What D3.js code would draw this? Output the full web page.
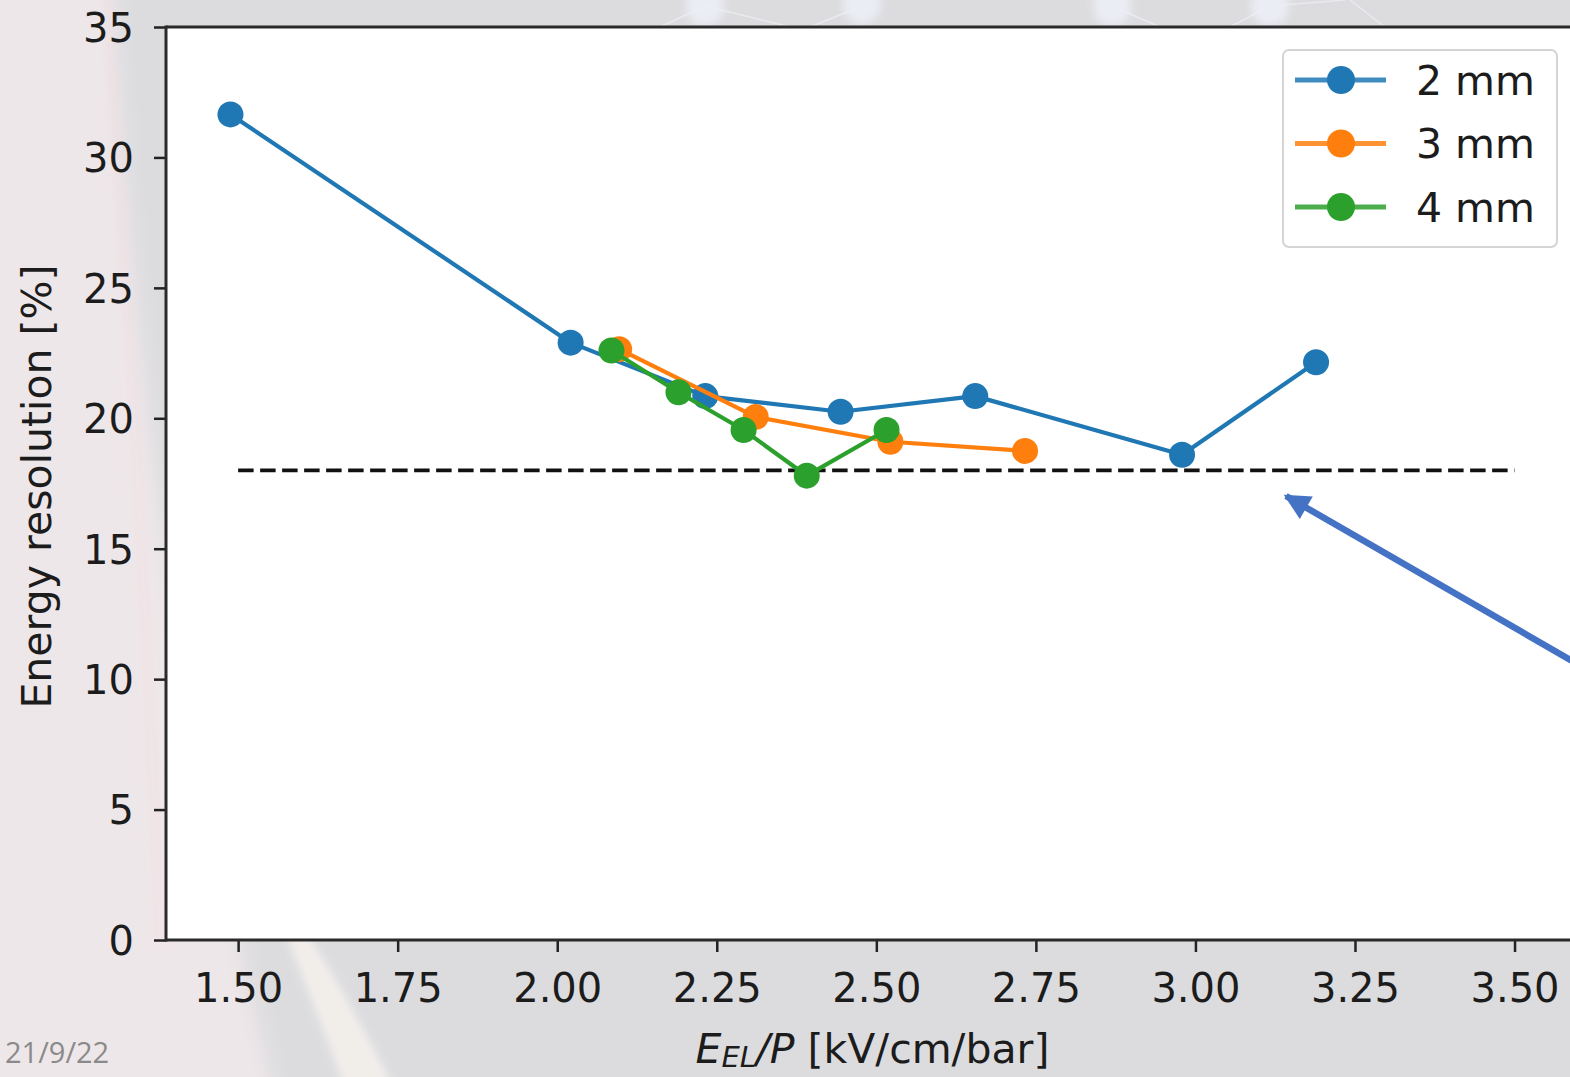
<!DOCTYPE html>
<html>
<head>
<meta charset="utf-8">
<script src="https://cdn.jsdelivr.net/npm/d3@7"></script>
<style>
  html, body { margin: 0; padding: 0; background: #dedde0; }
  svg { display: block; }
</style>
</head>
<body>
<svg id="chart" width="1570" height="1077"></svg>
<script>
// Energy resolution versus reduced EL field, one series per EL gap
const seriesNames = ["2 mm", "3 mm", "4 mm"];
const seriesColors = ["#1f77b4", "#ff7f0e", "#2ca02c"];

const field2mm = [1.488, 2.021, 2.232, 2.444, 2.655, 2.979, 3.189];
const res2mm   = [31.65, 22.9, 20.85, 20.25, 20.85, 18.6, 22.15];

const field3mm = [2.097, 2.311, 2.522, 2.733];
const res3mm   = [22.65, 20.05, 19.1, 18.75];

const field4mm = [2.085, 2.19, 2.292, 2.391, 2.516];
const res4mm   = [22.6, 21.0, 19.55, 17.8, 19.55];

// Reference level drawn as a dashed line
const refLevel = 18;
const refRange = [1.5, 3.5];

const xTicks = [1.50, 1.75, 2.00, 2.25, 2.50, 2.75, 3.00, 3.25, 3.50];
const yTicks = [0, 5, 10, 15, 20, 25, 30, 35];
const xDomain = [1.387, 3.601];
const yDomain = [0, 35];

const footerDate = "21/9/22";

const W = 1570, H = 1077;
const plot = { left: 166, right: 1579, top: 27, bottom: 940 };

const svg = d3.select("#chart");
const defs = svg.append("defs");

// ---- slide background ----
svg.append("rect").attr("width", W).attr("height", H).attr("fill", "#dcdcdf");

const soft = defs.append("filter").attr("id", "soft")
  .attr("x", "-20%").attr("y", "-20%").attr("width", "140%").attr("height", "140%");
soft.append("feGaussianBlur").attr("stdDeviation", 10);
const softer = defs.append("filter").attr("id", "softer")
  .attr("x", "-20%").attr("y", "-20%").attr("width", "140%").attr("height", "140%");
softer.append("feGaussianBlur").attr("stdDeviation", 4);

// pale rose panel on the left of the slide template
svg.append("path")
  .attr("d", "M-40,-40 L112,-40 C122,250 170,700 282,1120 L-40,1120 Z")
  .attr("fill", "#eee7e9").attr("filter", "url(#soft)");
// light swoosh along its edge
svg.append("path")
  .attr("d", "M285,930 C300,975 325,1030 345,1090 L395,1090 C370,1040 335,975 305,930 Z")
  .attr("fill", "#f4f0ec").attr("opacity", 0.9).attr("filter", "url(#softer)");
svg.append("path")
  .attr("d", "M108,0 C120,200 138,420 160,940")
  .attr("fill", "none").attr("stroke", "#f3dde0").attr("stroke-width", 5)
  .attr("opacity", 0.7).attr("filter", "url(#softer)");

// faint molecule motif near the top edge
const blobs = [[705, 6], [862, 4], [1112, 6], [1270, 6]];
const links = [[705, 6, 660, 27], [705, 6, 790, 27], [862, 6, 810, 27], [1112, 6, 1160, 27], [1270, 6, 1230, 27], [1270, 6, 1345, 0], [1350, 0, 1385, 27]];
svg.append("g").selectAll("line").data(links).join("line")
  .attr("x1", d => d[0]).attr("y1", d => d[1]).attr("x2", d => d[2]).attr("y2", d => d[3])
  .attr("stroke", "#eceef4").attr("stroke-width", 1.5).attr("opacity", 0.8);
svg.append("g").selectAll("ellipse").data(blobs).join("ellipse")
  .attr("cx", d => d[0]).attr("cy", d => d[1]).attr("rx", 19).attr("ry", 20)
  .attr("fill", "#eef0f8").attr("opacity", 0.85).attr("filter", "url(#softer)");

// ---- scales ----
const x = d3.scaleLinear().domain(xDomain).range([plot.left, plot.right]);
const y = d3.scaleLinear().domain(yDomain).range([plot.bottom, plot.top]);

// plot area
svg.append("rect")
  .attr("x", plot.left).attr("y", plot.top)
  .attr("width", plot.right - plot.left).attr("height", plot.bottom - plot.top)
  .attr("fill", "#ffffff");

defs.append("clipPath").attr("id", "plotClip").append("rect")
  .attr("x", plot.left).attr("y", plot.top)
  .attr("width", plot.right - plot.left).attr("height", plot.bottom - plot.top);

const font = "'DejaVu Sans', sans-serif";
const tickSize = 40;

// ---- axes ----
const xAxis = d3.axisBottom(x).tickValues(xTicks).tickFormat(d3.format(".2f"))
  .tickSizeInner(12).tickSizeOuter(0).tickPadding(20);
const gx = svg.append("g").attr("transform", `translate(0,${plot.bottom})`).call(xAxis);
gx.select(".domain").remove();
gx.selectAll(".tick line").attr("stroke", "#222").attr("stroke-width", 2.5);
gx.selectAll(".tick text").attr("font-family", font).attr("font-size", tickSize)
  .attr("fill", "#1c1c1c").attr("dy", "0.74em");

const yAxis = d3.axisLeft(y).tickValues(yTicks).tickFormat(d3.format("d"))
  .tickSizeInner(12).tickSizeOuter(0).tickPadding(20);
const gy = svg.append("g").attr("transform", `translate(${plot.left},0)`).call(yAxis);
gy.select(".domain").remove();
gy.selectAll(".tick line").attr("stroke", "#222").attr("stroke-width", 2.5);
gy.selectAll(".tick text").attr("font-family", font).attr("font-size", tickSize)
  .attr("fill", "#1c1c1c").attr("dy", "0.36em");

// spines
const spine = svg.append("g").attr("stroke", "#2a2a2a").attr("stroke-width", 3).attr("fill", "none");
spine.append("line").attr("x1", plot.left).attr("x2", plot.left).attr("y1", plot.top - 1.5).attr("y2", plot.bottom + 1.5);
spine.append("line").attr("x1", plot.left).attr("x2", plot.right).attr("y1", plot.top).attr("y2", plot.top);
spine.append("line").attr("x1", plot.left).attr("x2", plot.right).attr("y1", plot.bottom).attr("y2", plot.bottom);
spine.append("line").attr("x1", plot.right).attr("x2", plot.right).attr("y1", plot.top).attr("y2", plot.bottom);

// axis titles
svg.append("text")
  .attr("transform", `translate(51,${(plot.top + plot.bottom) / 2 + 3}) rotate(-90)`)
  .attr("text-anchor", "middle")
  .attr("font-family", font).attr("font-size", 41).attr("fill", "#1c1c1c")
  .text("Energy resolution [%]");

const xl = svg.append("text")
  .attr("x", (plot.left + plot.right) / 2).attr("y", 1063)
  .attr("text-anchor", "middle")
  .attr("font-family", font).attr("font-size", 41).attr("fill", "#1c1c1c");
xl.append("tspan").attr("font-style", "italic").text("E");
xl.append("tspan").attr("font-style", "italic").attr("font-size", 29).attr("dy", 4).text("EL");
xl.append("tspan").attr("font-style", "italic").attr("dy", -4).text("/P");
xl.append("tspan").text(" [kV/cm/bar]");

// ---- data ----
const plotG = svg.append("g").attr("clip-path", "url(#plotClip)");

// dashed reference line
plotG.append("line")
  .attr("x1", x(refRange[0])).attr("x2", x(refRange[1]))
  .attr("y1", y(refLevel)).attr("y2", y(refLevel))
  .attr("stroke", "#111").attr("stroke-width", 3.8)
  .attr("stroke-dasharray", "15.5,6.5");

const series = [
  { name: seriesNames[0], color: seriesColors[0], xs: field2mm, ys: res2mm },
  { name: seriesNames[1], color: seriesColors[1], xs: field3mm, ys: res3mm },
  { name: seriesNames[2], color: seriesColors[2], xs: field4mm, ys: res4mm }
];

const line = d3.line().x(d => x(d[0])).y(d => y(d[1]));
series.forEach(s => {
  const pts = s.xs.map((v, i) => [v, s.ys[i]]);
  const g = plotG.append("g");
  g.append("path").attr("d", line(pts)).attr("fill", "none")
    .attr("stroke", s.color).attr("stroke-width", 4.2).attr("stroke-linejoin", "round");
  g.selectAll("circle").data(pts).join("circle")
    .attr("cx", d => x(d[0])).attr("cy", d => y(d[1])).attr("r", 13)
    .attr("fill", s.color);
});

// ---- legend ----
const lg = svg.append("g").attr("transform", "translate(1283,50)");
lg.append("rect").attr("width", 274).attr("height", 197).attr("rx", 6)
  .attr("fill", "#ffffff").attr("fill-opacity", 0.85)
  .attr("stroke", "#d4d4d4").attr("stroke-width", 2);
series.forEach((s, i) => {
  const cy = 30 + i * 63.5;
  lg.append("line").attr("x1", 12).attr("x2", 103).attr("y1", cy).attr("y2", cy)
    .attr("stroke", s.color).attr("stroke-width", 5).attr("opacity", 0.85);
  lg.append("circle").attr("cx", 58).attr("cy", cy).attr("r", 14).attr("fill", s.color);
  lg.append("text").attr("x", 133).attr("y", cy).attr("dy", "0.36em")
    .attr("font-family", font).attr("font-size", 41).attr("fill", "#1c1c1c")
    .text(s.name);
});

// ---- annotation arrow pointing at the reference line ----
defs.append("marker").attr("id", "arrowHead")
  .attr("viewBox", "0 0 10 10").attr("refX", 9).attr("refY", 5)
  .attr("markerUnits", "userSpaceOnUse")
  .attr("markerWidth", 28).attr("markerHeight", 26).attr("orient", "auto")
  .append("path").attr("d", "M0,0 L10,5 L0,10 Z").attr("fill", "#4472c4");
svg.append("line")
  .attr("x1", 1600).attr("y1", 677)
  .attr("x2", 1286).attr("y2", 496)
  .attr("stroke", "#4472c4").attr("stroke-width", 6.5)
  .attr("marker-end", "url(#arrowHead)");

// ---- slide footer ----
svg.append("text").attr("x", 5).attr("y", 1063)
  .attr("font-family", "'Open Sans', 'Liberation Sans', sans-serif")
  .attr("font-size", 29).attr("fill", "#8a8a8a")
  .text(footerDate);
</script>
</body>
</html>
